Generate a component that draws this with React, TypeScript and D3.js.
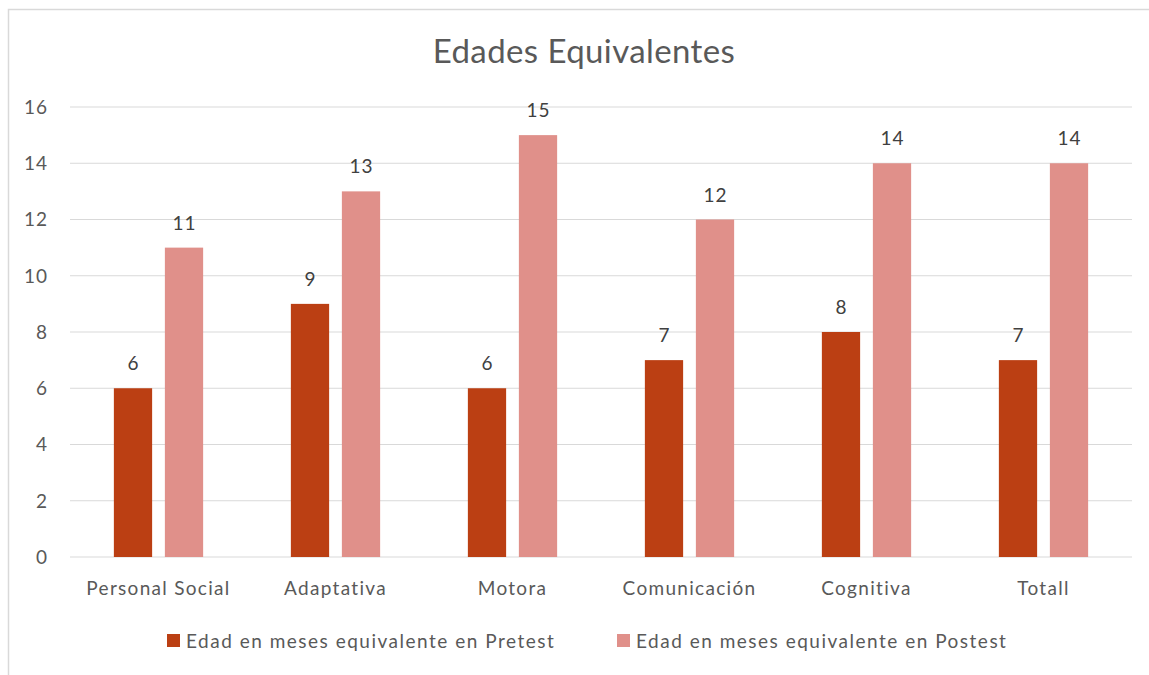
import { useEffect, useRef } from "react";
import * as d3 from "d3";

// Datos del gráfico
const CATEGORIAS = ["Personal Social", "Adaptativa", "Motora", "Comunicación", "Cognitiva", "Totall"];
const PRETEST = [6, 9, 6, 7, 8, 7];
const POSTEST = [11, 13, 15, 12, 14, 14];
const SERIES = ["Edad en meses equivalente en Pretest", "Edad en meses equivalente en Postest"];
const TICKS_Y = [0, 2, 4, 6, 8, 10, 12, 14, 16];

const COLORES = ["#BB3F13", "#E0908A"];
const TEXTO = "#595959";
const FUENTE = "Lato, 'Open Sans', sans-serif";

const WIDTH = 1149;
const HEIGHT = 675;

const App = () => {
  const svgRef = useRef<SVGSVGElement>(null);

  useEffect(() => {
    if (!svgRef.current) return;
    const svg = d3.select(svgRef.current);
    svg.selectAll("*").remove();

    const margin = { left: 70, right: 17, top: 107, bottom: 118 };
    const innerW = WIDTH - margin.left - margin.right;
    const innerH = HEIGHT - margin.top - margin.bottom;

    // Borde del área del gráfico (solo se ve arriba y a la izquierda)
    svg.append("rect")
      .attr("x", 8.5)
      .attr("y", 9.5)
      .attr("width", 1200)
      .attr("height", 800)
      .attr("fill", "white")
      .attr("stroke", "#d9d9d9")
      .attr("stroke-width", 1.5);

    // Título
    svg.append("text")
      .attr("x", 584)
      .attr("y", 63)
      .attr("text-anchor", "middle")
      .style("font-family", FUENTE)
      .style("font-size", "33px")
      .style("letter-spacing", "0.4px")
      .attr("fill", TEXTO)
      .text("Edades Equivalentes");

    const g = svg.append("g").attr("transform", `translate(${margin.left},${margin.top})`);

    const x0 = d3.scaleBand().domain(CATEGORIAS).range([0, innerW]).padding(0);
    const x1 = d3.scaleBand()
      .domain(["0", "1"])
      .range([0, x0.bandwidth()])
      .paddingInner(0.25)
      .paddingOuter(0.86);
    const y = d3.scaleLinear().domain([0, 16]).range([innerH, 0]);

    // Líneas de cuadrícula
    g.selectAll("line.grid")
      .data(TICKS_Y)
      .enter()
      .append("line")
      .attr("class", "grid")
      .attr("x1", 0)
      .attr("x2", innerW)
      .attr("y1", (d) => y(d))
      .attr("y2", (d) => y(d))
      .attr("stroke", "#d9d9d9")
      .attr("stroke-width", 1.2);

    // Etiquetas eje Y
    g.selectAll("text.ytick")
      .data(TICKS_Y)
      .enter()
      .append("text")
      .attr("class", "ytick")
      .attr("x", -22)
      .attr("y", (d) => y(d))
      .attr("dy", "0.36em")
      .attr("text-anchor", "end")
      .style("font-family", FUENTE)
      .style("font-size", "19px")
      .style("letter-spacing", "1px")
      .attr("fill", TEXTO)
      .text((d) => d);

    // Barras
    const seriesData = [PRETEST, POSTEST];
    seriesData.forEach((valores, si) => {
      g.selectAll(`rect.s${si}`)
        .data(valores)
        .enter()
        .append("rect")
        .attr("class", `s${si}`)
        .attr("x", (_, i) => (x0(CATEGORIAS[i]) ?? 0) + (x1(String(si)) ?? 0))
        .attr("y", (d) => y(d))
        .attr("width", x1.bandwidth())
        .attr("height", (d) => innerH - y(d))
        .attr("fill", COLORES[si]);

      g.selectAll(`text.l${si}`)
        .data(valores)
        .enter()
        .append("text")
        .attr("class", `l${si}`)
        .attr("x", (_, i) => (x0(CATEGORIAS[i]) ?? 0) + (x1(String(si)) ?? 0) + x1.bandwidth() / 2 + 0.5)
        .attr("y", (d) => y(d) - 18)
        .attr("text-anchor", "middle")
        .style("font-family", FUENTE)
        .style("font-size", "19px")
        .style("letter-spacing", "1px")
        .attr("fill", "#404040")
        .text((d) => d);
    });

    // Etiquetas eje X
    g.selectAll("text.xcat")
      .data(CATEGORIAS)
      .enter()
      .append("text")
      .attr("class", "xcat")
      .attr("x", (d) => (x0(d) ?? 0) + x0.bandwidth() / 2)
      .attr("y", innerH + 38)
      .attr("text-anchor", "middle")
      .style("font-family", FUENTE)
      .style("font-size", "19px")
      .style("letter-spacing", "1.3px")
      .attr("fill", TEXTO)
      .text((d) => d);

    // Leyenda
    const legendX = [167, 617];
    const legenda = svg.append("g").attr("transform", `translate(0, 641)`);
    SERIES.forEach((nombre, i) => {
      legenda.append("rect")
        .attr("x", legendX[i])
        .attr("y", -7)
        .attr("width", 13)
        .attr("height", 13)
        .attr("fill", COLORES[i]);
      legenda.append("text")
        .attr("x", legendX[i] + 19)
        .attr("y", 0)
        .attr("dy", "0.36em")
        .style("font-family", FUENTE)
        .style("font-size", "19px")
        .style("letter-spacing", "1.5px")
        .attr("fill", TEXTO)
        .text(nombre);
    });
  }, []);

  return (
    <div style={{ position: "absolute", left: 0, top: 0, background: "white" }}>
      <svg ref={svgRef} width={WIDTH} height={HEIGHT} style={{ display: "block" }} />
    </div>
  );
};

export default App;
